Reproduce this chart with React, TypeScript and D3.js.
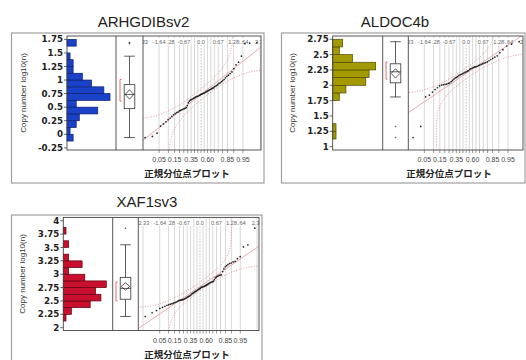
import React from 'react';
import * as d3 from 'd3';

const arhgdibValues = [
  -0.06, -0.04, 0.02, 0.15, 0.19, 0.23, 0.27, 0.30, 0.33, 0.36,
  0.38, 0.40, 0.41, 0.43, 0.44, 0.45, 0.46, 0.47, 0.48, 0.49,
  0.53, 0.58, 0.61,
  0.63, 0.64, 0.65, 0.66, 0.67, 0.68, 0.69, 0.70, 0.70, 0.71, 0.72, 0.73, 0.74, 0.745,
  0.755, 0.76, 0.77, 0.78, 0.79, 0.80, 0.81, 0.82, 0.83, 0.84, 0.85, 0.86,
  0.88, 0.89, 0.90, 0.92, 0.94, 0.95, 0.97, 0.99,
  1.01, 1.04, 1.07, 1.09, 1.12,
  1.15, 1.21, 1.28, 1.33, 1.44,
  1.67, 1.68, 1.69,
];

const aldocValues = [
  1.15, 1.33, 1.81, 1.84, 1.89, 1.93, 1.96, 1.99,
  2.005, 2.01, 2.015, 2.02, 2.03, 2.04, 2.06, 2.08, 2.10, 2.12,
  2.13, 2.14, 2.16, 2.17, 2.18, 2.19, 2.20, 2.21, 2.22, 2.23, 2.24,
  2.26, 2.27, 2.28, 2.29, 2.30, 2.30, 2.31, 2.32, 2.33, 2.34, 2.35, 2.36, 2.37,
  2.38, 2.40, 2.42, 2.44, 2.46, 2.48,
  2.53, 2.58,
  2.64, 2.67, 2.71,
];

const xaf1Values = [
  2.21,
  2.28, 2.32, 2.36,
  2.38, 2.40, 2.42, 2.43, 2.44, 2.45, 2.46, 2.47, 2.48, 2.49,
  2.505, 2.51, 2.515, 2.52, 2.525, 2.53, 2.54, 2.55, 2.56, 2.57, 2.58, 2.59, 2.60, 2.61,
  2.63, 2.64, 2.65, 2.66, 2.67, 2.68, 2.69, 2.70, 2.71, 2.72, 2.73, 2.74,
  2.755, 2.76, 2.765, 2.77, 2.775, 2.78, 2.79, 2.80, 2.81, 2.82, 2.83, 2.84, 2.85, 2.855, 2.86, 2.87,
  2.90, 2.93, 2.945, 2.96, 2.97, 2.98, 2.985, 2.99,
  3.05, 3.10,
  3.14, 3.16, 3.18, 3.20, 3.21, 3.23, 3.24,
  3.29, 3.33,
  3.51, 3.55,
  3.86,
];

const arhgdibTicks = [-0.25, 0, 0.25, 0.5, 0.75, 1, 1.25, 1.5, 1.75];
const aldocTicks = [1, 1.25, 1.5, 1.75, 2, 2.25, 2.5, 2.75];
const xaf1Ticks = [2, 2.25, 2.5, 2.75, 3, 3.25, 3.5, 3.75, 4];

const probGrid = [0.01, 0.05, 0.1, 0.15, 0.2, 0.25, 0.3, 0.35, 0.4, 0.45, 0.5,
  0.55, 0.6, 0.65, 0.7, 0.75, 0.8, 0.85, 0.9, 0.95, 0.99];
const probLabels = ['0.05', '0.15', '0.35', '0.60', '0.85', '0.95'];
const zLabels = ['-2.33', '-1.64', '-1.28', '-0.67', '0.0', '0.67', '1.28', '1.64', '2.33'];

const binWidth = 0.125;

// inverse normal cdf (Acklam)
function probit(p: number): number {
  const a = [-39.69683028665376, 220.9460984245205, -275.9285104469687, 138.3577518672690, -30.66479806614716, 2.506628277459239];
  const b = [-54.47609879822406, 161.5858368580409, -155.6989798598866, 66.80131188771972, -13.28068155288572];
  const c = [-0.007784894002430293, -0.3223964580411365, -2.400758277161838, -2.549732539343734, 4.374664141464968, 2.938163982698783];
  const d = [0.007784695709041462, 0.3224671290700398, 2.445134137142996, 3.754408661907416];
  const pl = 0.02425;
  if (p < pl) {
    const q = Math.sqrt(-2 * Math.log(p));
    return (((((c[0] * q + c[1]) * q + c[2]) * q + c[3]) * q + c[4]) * q + c[5]) / ((((d[0] * q + d[1]) * q + d[2]) * q + d[3]) * q + 1);
  }
  if (p > 1 - pl) {
    const q = Math.sqrt(-2 * Math.log(1 - p));
    return -(((((c[0] * q + c[1]) * q + c[2]) * q + c[3]) * q + c[4]) * q + c[5]) / ((((d[0] * q + d[1]) * q + d[2]) * q + d[3]) * q + 1);
  }
  const q = p - 0.5, r = q * q;
  return (((((a[0] * r + a[1]) * r + a[2]) * r + a[3]) * r + a[4]) * r + a[5]) * q / (((((b[0] * r + b[1]) * r + b[2]) * r + b[3]) * r + b[4]) * r + 1);
}

function normCdf(x: number): number {
  const t = 1 / (1 + 0.3275911 * Math.abs(x) / Math.SQRT2);
  const y = 1 - (((((1.061405429 * t - 1.453152027) * t) + 1.421413741) * t - 0.284496736) * t + 0.254829592) * t * Math.exp(-x * x / 2);
  return x >= 0 ? 0.5 * (1 + y) : 0.5 * (1 - y);
}

type PanelProps = {
  id: string;
  title: string;
  values: number[];
  ticks: number[];
  fill: string;
  stroke: string;
  outer: number[];
  frame: number[];
  boxDiv: number;
  qqDiv: number;
  yDomain: number[];
  zDomain: number[];
  titleX: number;
  titleY: number;
  labelX: number;
  qqTitleX: number;
};

const Panel = (p: PanelProps) => {
  const [fl, ft, fr, fb] = p.frame;
  const y = d3.scaleLinear().domain(p.yDomain).range([fb, ft]);
  const sorted = p.values.slice().sort(d3.ascending);
  const n = sorted.length;

  // histogram
  const lo = Math.floor(sorted[0] / binWidth) * binWidth;
  const hi = Math.ceil(sorted[n - 1] / binWidth + 1e-9) * binWidth;
  const bins = d3.bin().domain([lo, hi]).thresholds(d3.range(lo + binWidth, hi - 1e-9, binWidth))(sorted);
  const hx = d3.scaleLinear().domain([0, d3.max(bins, b => b.length) as number]).range([fl, fl + 43]);

  // box plot
  const q1 = d3.quantile(sorted, 0.25) as number;
  const med = d3.quantile(sorted, 0.5) as number;
  const q3 = d3.quantile(sorted, 0.75) as number;
  const iqr = q3 - q1;
  const wLo = sorted.find(v => v >= q1 - 1.5 * iqr) as number;
  const wHi = sorted.filter(v => v <= q3 + 1.5 * iqr).pop() as number;
  const outliers = sorted.filter(v => v < wLo || v > wHi);
  const mean = d3.mean(sorted) as number;
  const sd = d3.deviation(sorted) as number;
  const ci = 1.96 * sd / Math.sqrt(n);
  const half = Math.floor(n / 2);
  let shI = 0;
  for (let i = 0; i + half < n; i++) {
    if (sorted[i + half] - sorted[i] < sorted[shI + half] - sorted[shI]) shI = i;
  }
  const cx = (p.boxDiv + p.qqDiv) / 2;
  const bw = 5.3;

  // normal quantile plot
  const x = d3.scaleLinear().domain(p.zDomain).range([p.qqDiv, fr]);
  const pts = sorted.map((v, i) => [probit((i + 1) / (n + 1)), v]);
  const dcrit = 0.886 / Math.sqrt(n);
  const vs = d3.range(p.yDomain[0], p.yDomain[1], 0.005);
  const band1 = vs.map(v => [normCdf((v - mean) / sd) + dcrit, v]).filter(d => d[0] < 0.9999).map(d => [probit(d[0]), d[1]]);
  const band2 = vs.map(v => [normCdf((v - mean) / sd) - dcrit, v]).filter(d => d[0] > 0.0001).map(d => [probit(d[0]), d[1]]);
  const line = d3.line<number[]>().x(d => x(d[0])).y(d => y(d[1]));
  const zs = zLabels.map(Number);
  const clipId = `clip-${p.id}`;

  return (
    <g>
      <rect x={p.outer[0]} y={p.outer[1]} width={p.outer[2] - p.outer[0]} height={p.outer[3] - p.outer[1]}
        fill="#fff" stroke="#a0a0a0" strokeWidth={1.2} />
      <text x={p.titleX} y={p.titleY} textAnchor="middle" fontFamily="'Liberation Sans', Arial, sans-serif"
        fontSize={15} fill="#222">{p.title}</text>
      <text transform={`translate(${p.labelX},${(ft + fb) / 2}) rotate(-90)`} textAnchor="middle"
        fontFamily="'Liberation Sans', Arial, sans-serif" fontSize={8} fill="#333">Copy number log10(n)</text>

      <defs>
        <clipPath id={clipId}><rect x={p.qqDiv} y={ft} width={fr - p.qqDiv} height={fb - ft} /></clipPath>
      </defs>

      {/* histogram */}
      {bins.filter(b => b.length > 0).map((b, i) => (
        <rect key={i} x={fl} y={y(b.x1 as number)} width={hx(b.length) - fl} height={y(b.x0 as number) - y(b.x1 as number)}
          fill={p.fill} stroke={p.stroke} strokeWidth={0.7} />
      ))}
      {p.ticks.map(t => (
        <g key={t}>
          <line x1={fl - 3} x2={fl} y1={y(t)} y2={y(t)} stroke="#444" strokeWidth={0.8} />
          <text x={fl - 4} y={y(t)} dy="0.35em" textAnchor="end" fontFamily="'DejaVu Sans', Verdana, sans-serif"
            fontWeight="bold" fontSize={8.7} fill="#222">{t}</text>
        </g>
      ))}

      {/* quantile plot grid */}
      <g clipPath={`url(#${clipId})`}>
        {probGrid.map(g => (
          <line key={g} x1={x(probit(g))} x2={x(probit(g))} y1={ft} y2={fb}
            stroke={g === 0.5 ? '#999' : '#bdbdbd'} strokeWidth={0.6} strokeDasharray={g === 0.5 ? '1.5,1.5' : undefined} />
        ))}
        {zLabels.slice().reverse().map((l, i) => {
          const z = zs[zLabels.length - 1 - i];
          return (
            <g key={l}>
              <rect x={x(z) - l.length * 1.5} y={ft + 2} width={l.length * 3} height={6.5} fill="#fff" />
              <text x={x(z)} y={ft + 7.5} textAnchor="middle" fontFamily="'Liberation Sans', Arial, sans-serif"
                fontSize={5.6} fill="#666">{l}</text>
            </g>
          );
        })}
        <path d={line(band1) as string} fill="none" stroke="#e07a80" strokeWidth={0.8} strokeDasharray="1,1.6" />
        <path d={line(band2) as string} fill="none" stroke="#e07a80" strokeWidth={0.8} strokeDasharray="1,1.6" />
        <line x1={x(p.zDomain[0])} x2={x(p.zDomain[1])} y1={y(mean + sd * p.zDomain[0])} y2={y(mean + sd * p.zDomain[1])}
          stroke="#e8a0a4" strokeWidth={0.9} />
        {pts.map((d, i) => (
          <circle key={i} cx={x(d[0])} cy={y(d[1])} r={0.85} fill="#222" />
        ))}
      </g>
      {probGrid.filter(g => g >= 0.05 && g <= 0.95).map(g => (
        <line key={g} x1={x(probit(g))} x2={x(probit(g))} y1={fb} y2={fb + 3} stroke="#555" strokeWidth={0.6} />
      ))}
      {probLabels.map(l => (
        <text key={l} x={x(probit(+l))} y={fb + 12} textAnchor="middle" fontFamily="'Liberation Sans', Arial, sans-serif"
          fontSize={7} fill="#444">{l}</text>
      ))}
      <text x={p.qqTitleX} y={fb + 27} textAnchor="middle" fontFamily="'Noto Sans CJK JP', sans-serif"
        fontWeight="bold" fontSize={9.5} fill="#222">正規分位点プロット</text>

      {/* box plot */}
      <line x1={cx} x2={cx} y1={y(wHi)} y2={y(q3)} stroke="#333" strokeWidth={0.8} />
      <line x1={cx} x2={cx} y1={y(q1)} y2={y(wLo)} stroke="#333" strokeWidth={0.8} />
      <line x1={cx - bw} x2={cx + bw} y1={y(wHi)} y2={y(wHi)} stroke="#333" strokeWidth={0.8} />
      <line x1={cx - bw} x2={cx + bw} y1={y(wLo)} y2={y(wLo)} stroke="#333" strokeWidth={0.8} />
      <rect x={cx - bw} y={y(q3)} width={bw * 2} height={y(q1) - y(q3)} fill="#fff" stroke="#333" strokeWidth={0.8} />
      <line x1={cx - bw} x2={cx + bw} y1={y(med)} y2={y(med)} stroke="#333" strokeWidth={0.8} />
      <path d={`M${cx},${y(mean + ci)}L${cx + bw - 1},${y(mean)}L${cx},${y(mean - ci)}L${cx - bw + 1},${y(mean)}Z`}
        fill="none" stroke="#333" strokeWidth={0.8} />
      <path d={`M${cx - 8},${y(sorted[shI + half])}h-1.5V${y(sorted[shI])}h1.5`} fill="none" stroke="#e05a62" strokeWidth={0.9} />
      {outliers.map((v, i) => (
        <circle key={i} cx={cx} cy={y(v)} r={0.8} fill="#555" />
      ))}

      {/* frame */}
      <rect x={fl} y={ft} width={fr - fl} height={fb - ft} fill="none" stroke="#444" strokeWidth={0.9} />
      <line x1={p.boxDiv} x2={p.boxDiv} y1={ft} y2={fb} stroke="#444" strokeWidth={0.9} />
      <line x1={p.qqDiv} x2={p.qqDiv} y1={ft} y2={fb} stroke="#444" strokeWidth={0.9} />
    </g>
  );
};

const App = () => (
  <svg width={526} height={360} style={{ position: 'absolute', left: 0, top: 0, background: '#fff' }}>
    <Panel id="a" title="ARHGDIBsv2" values={arhgdibValues} ticks={arhgdibTicks} fill="#1a42c8" stroke="#0b1f6e"
      outer={[11.5, 33, 264, 183]} frame={[67, 36, 261, 150]} boxDiv={116} qqDiv={143}
      yDomain={[-0.29, 1.812]} zDomain={[-2.275, 2.353]} titleX={143.5} titleY={26.5} labelX={26} qqTitleX={187} />
    <Panel id="b" title="ALDOC4b" values={aldocValues} ticks={aldocTicks} fill="#a39a00" stroke="#4f4a00"
      outer={[281.5, 33, 525, 183]} frame={[332.7, 36, 523, 150]} boxDiv={382.7} qqDiv={408.3}
      yDomain={[0.946, 2.803]} zDomain={[-2.275, 2.235]} titleX={395} titleY={26.5} labelX={295} qqTitleX={449} />
    <Panel id="c" title="XAF1sv3" values={xaf1Values} ticks={xaf1Ticks} fill="#c8102e" stroke="#5e0010"
      outer={[11.5, 215, 262, 362]} frame={[63.3, 217.4, 259, 330.5]} boxDiv={112.7} qqDiv={138.3}
      yDomain={[1.948, 4.062]} zDomain={[-2.518, 2.408]} titleX={147} titleY={206.5} labelX={25} qqTitleX={187} />
  </svg>
);

export default App;
